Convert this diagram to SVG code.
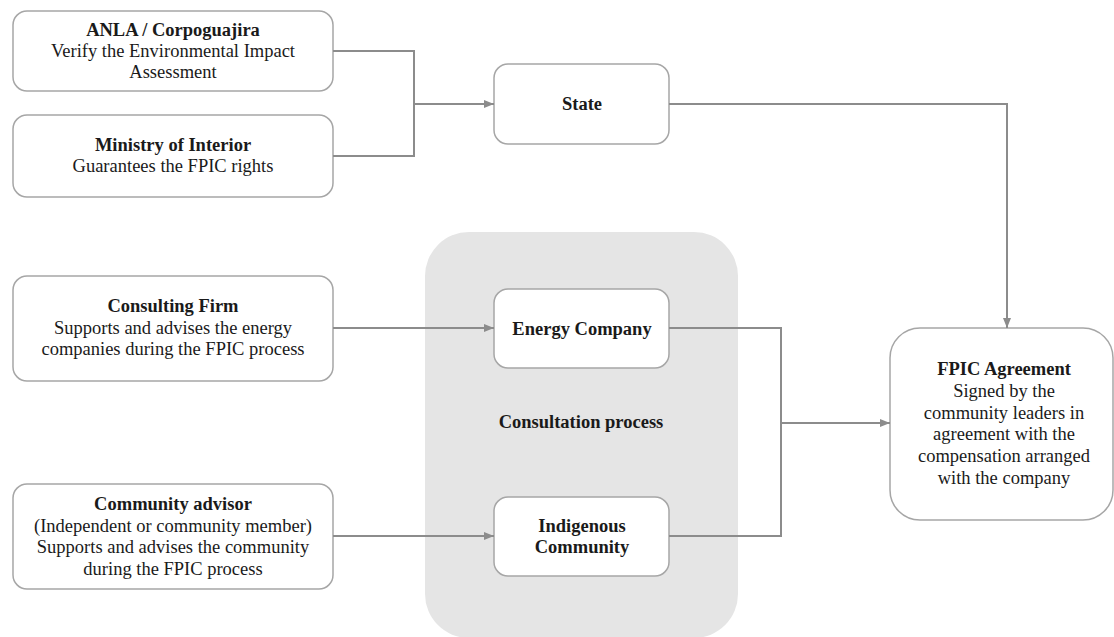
<svg xmlns="http://www.w3.org/2000/svg" width="1114" height="637" viewBox="0 0 1114 637">
<style>
.box{fill:#ffffff;stroke:#a6a6a6;stroke-width:1.5}
.t{font-family:"Liberation Serif","Times New Roman",serif;font-size:18.5px;fill:#1a1a1a;text-anchor:middle}
.b{font-weight:bold}
.c{fill:none;stroke:#8c8c8c;stroke-width:2}
</style>
<defs>
<marker id="arr" markerUnits="userSpaceOnUse" markerWidth="10" markerHeight="10" viewBox="0 0 10 10" refX="10" refY="5" orient="auto">
<path d="M0,1 L10,5 L0,9 Z" fill="#8c8c8c"/>
</marker>
</defs>
<rect width="1114" height="637" fill="#ffffff"/>
<g id="consultation-process">
<rect x="425" y="232" width="313" height="406" rx="44" fill="#e5e5e5"/>
<text class="t b" x="581" y="428">Consultation process</text>
</g>
<g id="anla">
<rect class="box" x="13" y="11" width="320" height="80" rx="14"/>
<text class="t b" x="173" y="36">ANLA / Corpoguajira</text>
<text class="t" x="173" y="57">Verify the Environmental Impact</text>
<text class="t" x="173" y="78">Assessment</text>
</g>
<g id="ministry">
<rect class="box" x="13" y="115" width="320" height="82" rx="14"/>
<text class="t b" x="173" y="151">Ministry of Interior</text>
<text class="t" x="173" y="172">Guarantees the FPIC rights</text>
</g>
<g id="consulting-firm">
<rect class="box" x="13" y="276" width="320" height="105" rx="14"/>
<text class="t b" x="173" y="312">Consulting Firm</text>
<text class="t" x="173" y="333.5">Supports and advises the energy</text>
<text class="t" x="173" y="355">companies during the FPIC process</text>
</g>
<g id="community-advisor">
<rect class="box" x="13" y="484" width="320" height="105" rx="14"/>
<text class="t b" x="173" y="510">Community advisor</text>
<text class="t" x="173" y="531.5">(Independent or community member)</text>
<text class="t" x="173" y="553">Supports and advises the community</text>
<text class="t" x="173" y="574.5">during the FPIC process</text>
</g>
<g id="state">
<rect class="box" x="494" y="64" width="175" height="80" rx="14"/>
<text class="t b" x="582" y="110">State</text>
</g>
<g id="energy-company">
<rect class="box" x="494" y="289" width="175" height="79" rx="14"/>
<text class="t b" x="582" y="335">Energy Company</text>
</g>
<g id="indigenous-community">
<rect class="box" x="494" y="497" width="175" height="79" rx="14"/>
<text class="t b" x="582" y="532">Indigenous</text>
<text class="t b" x="582" y="553">Community</text>
</g>
<g id="fpic-agreement">
<rect class="box" x="890" y="328" width="223" height="192" rx="30"/>
<text class="t b" x="1004" y="375">FPIC Agreement</text>
<text class="t" x="1004" y="397">Signed by the</text>
<text class="t" x="1004" y="418.5">community leaders in</text>
<text class="t" x="1004" y="440">agreement with the</text>
<text class="t" x="1004" y="462">compensation arranged</text>
<text class="t" x="1004" y="484">with the company</text>
</g>
<g id="connectors">
<path class="c" d="M333,51 H414 V156 H333"/>
<path class="c" d="M414,104 H494" marker-end="url(#arr)"/>
<path class="c" d="M669,104 H1007 V328" marker-end="url(#arr)"/>
<path class="c" d="M333,328 H494" marker-end="url(#arr)"/>
<path class="c" d="M333,536 H494" marker-end="url(#arr)"/>
<path class="c" d="M669,328 H781 V536 H669"/>
<path class="c" d="M781,423 H890" marker-end="url(#arr)"/>
</g>
</svg>
